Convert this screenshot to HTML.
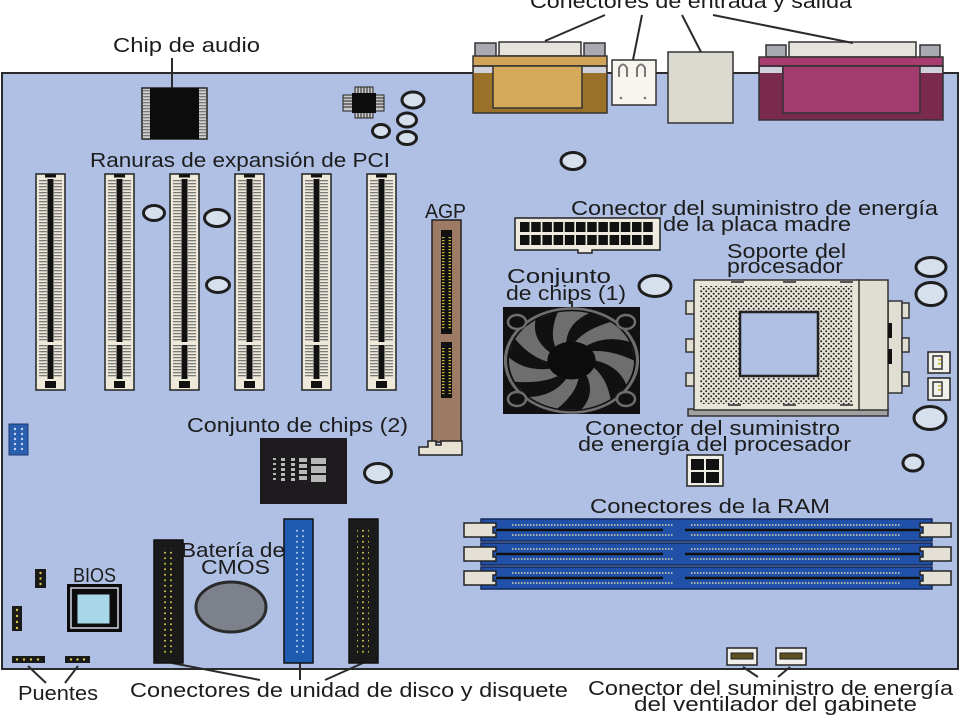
<!DOCTYPE html>
<html><head><meta charset="utf-8"><style>
html,body{margin:0;padding:0;background:#fff;width:960px;height:720px;overflow:hidden}
svg{display:block}
text{font-family:"Liberation Sans",sans-serif;font-size:20px;fill:#1c1c1c}
</style></head><body>
<svg width="960" height="720" viewBox="0 0 960 720" xmlns="http://www.w3.org/2000/svg" xmlns:xlink="http://www.w3.org/1999/xlink">
<defs>
<pattern id="stripe" width="4" height="3" patternUnits="userSpaceOnUse"><rect width="4" height="1.3" fill="#7a7a7a"/></pattern>
<pattern id="ystripe" width="4" height="3" patternUnits="userSpaceOnUse"><rect width="4" height="1.2" fill="#c8b830"/></pattern>
<pattern id="sockdots" width="5" height="5" patternUnits="userSpaceOnUse"><circle cx="1.2" cy="1.2" r="1" fill="#222"/><circle cx="3.7" cy="3.7" r="1" fill="#222"/></pattern>
<pattern id="ydots" width="6" height="5.5" patternUnits="userSpaceOnUse"><circle cx="3" cy="2.75" r="1" fill="#d8c840"/></pattern>
<pattern id="bdots" width="6" height="5.5" patternUnits="userSpaceOnUse"><circle cx="3" cy="2.75" r="1" fill="#b8d0f0"/></pattern>
<g id="pci">
 <rect x="0" y="0" width="29" height="216" fill="#efe9da" stroke="#222" stroke-width="1.5"/>
 <rect x="3" y="5" width="8" height="199" fill="url(#stripe)"/>
 <rect x="18" y="5" width="8" height="199" fill="url(#stripe)"/>
 <rect x="11.5" y="5" width="6" height="200" fill="#111"/>
 <rect x="2" y="168" width="25" height="3" fill="#efe9da"/>
 <rect x="9" y="0.5" width="11" height="3" fill="#111"/>
 <rect x="9" y="207" width="11" height="7" fill="#111"/>
</g>
<g id="ram">
 <rect x="17" y="0" width="451" height="22" fill="#2150a8" stroke="#14285a" stroke-width="1.5"/>
 <line x1="32" y1="11" x2="199" y2="11" stroke="#111" stroke-width="2.5"/>
 <line x1="221" y1="11" x2="456" y2="11" stroke="#111" stroke-width="2.5"/>
 <line x1="48" y1="6" x2="209" y2="6" stroke="#d8d8b0" stroke-width="1.5" stroke-dasharray="1.5 1.5"/>
 <line x1="48" y1="16" x2="209" y2="16" stroke="#d8d8b0" stroke-width="1.5" stroke-dasharray="1.5 1.5"/>
 <line x1="227" y1="6" x2="436" y2="6" stroke="#d8d8b0" stroke-width="1.5" stroke-dasharray="1.5 1.5"/>
 <line x1="227" y1="16" x2="436" y2="16" stroke="#d8d8b0" stroke-width="1.5" stroke-dasharray="1.5 1.5"/>
 <path d="M0,4 H32 V8 H29 V14 H32 V18 H0 Z" fill="#e4e0d6" stroke="#222" stroke-width="1.5"/>
 <path d="M487,4 H456 V8 H459 V14 H456 V18 H487 Z" fill="#e4e0d6" stroke="#222" stroke-width="1.5"/>
</g>
<path id="blade" d="M19,0 Q38,6 43.3,25 L30.8,39.4 Q28,18 17.6,7.1 Z" fill="#111"/>
</defs>

<!-- board -->
<rect x="2" y="73" width="956" height="596" fill="#afc0e4" stroke="#2a2a2a" stroke-width="2"/>

<!-- I/O connectors -->
<rect x="475" y="43" width="21" height="14" fill="#a9a9b2" stroke="#333" stroke-width="1.5"/>
<rect x="584" y="43" width="21" height="14" fill="#a9a9b2" stroke="#333" stroke-width="1.5"/>
<rect x="499" y="42" width="82" height="14" fill="#e6e3dd" stroke="#333" stroke-width="1.5"/>
<rect x="473" y="56" width="134" height="10" fill="#cfa458" stroke="#333" stroke-width="1.5"/>
<rect x="473" y="66" width="134" height="47" fill="#9b7129" stroke="#333" stroke-width="1.5"/>
<rect x="474" y="67" width="19" height="6" fill="#cfd2dc"/>
<rect x="582" y="67" width="24" height="6" fill="#cfd2dc"/>
<rect x="493" y="66" width="89" height="42" fill="#d4a95a" stroke="#333" stroke-width="1.5"/>

<rect x="612" y="60" width="44" height="45" fill="#f7f5ee" stroke="#333" stroke-width="1.5"/>
<path d="M619,77 V68 Q623,61 627,68 V77" fill="none" stroke="#777" stroke-width="2"/>
<path d="M637,77 V68 Q641,61 645,68 V77" fill="none" stroke="#777" stroke-width="2"/>
<circle cx="621" cy="98" r="1.3" fill="#777"/><circle cx="645" cy="98" r="1.3" fill="#777"/>

<rect x="668" y="52" width="65" height="71" fill="#dcd9d0" stroke="#333" stroke-width="1.5"/>

<rect x="766" y="45" width="20" height="12" fill="#a9a9b2" stroke="#333" stroke-width="1.5"/>
<rect x="920" y="45" width="20" height="12" fill="#a9a9b2" stroke="#333" stroke-width="1.5"/>
<rect x="789" y="42" width="127" height="15" fill="#e6e3dd" stroke="#333" stroke-width="1.5"/>
<rect x="759" y="57" width="184" height="9" fill="#a83c70" stroke="#333" stroke-width="1.5"/>
<rect x="759" y="66" width="184" height="54" fill="#7a2a4c" stroke="#333" stroke-width="1.5"/>
<rect x="760" y="67" width="22" height="6" fill="#cfd2dc"/>
<rect x="920" y="67" width="22" height="6" fill="#cfd2dc"/>
<rect x="783" y="66" width="137" height="47" fill="#a23c6e" stroke="#333" stroke-width="1.5"/>

<!-- I/O leader lines -->
<g stroke="#2a2a2a" stroke-width="2" fill="none">
<line x1="605" y1="15" x2="545" y2="41"/>
<line x1="642" y1="15" x2="633" y2="60"/>
<line x1="682" y1="15" x2="701" y2="52"/>
<line x1="713" y1="15" x2="853" y2="43"/>
<line x1="172" y1="58" x2="172" y2="88"/>
<line x1="572" y1="301" x2="572" y2="307"/>
<line x1="28" y1="666" x2="46" y2="683"/>
<line x1="78" y1="666" x2="65" y2="683"/>
<line x1="172" y1="663" x2="260" y2="680"/>
<line x1="300" y1="663" x2="300" y2="680"/>
<line x1="363" y1="663" x2="325" y2="680"/>
<line x1="743" y1="667" x2="758" y2="677"/>
<line x1="790" y1="667" x2="778" y2="677"/>
</g>

<!-- audio chip -->
<rect x="142" y="88" width="65" height="51" fill="#d0d0d0" stroke="#222" stroke-width="1.5"/>
<rect x="143" y="89" width="7" height="49" fill="url(#stripe)"/>
<rect x="199" y="89" width="7" height="49" fill="url(#stripe)"/>
<rect x="150" y="88" width="49" height="51" fill="#0c0c0c"/>

<!-- small chip -->
<rect x="343" y="95" width="41" height="16" fill="#c8c8c8" stroke="#222" stroke-width="1"/>
<rect x="355" y="87" width="18" height="31" fill="#c8c8c8" stroke="#222" stroke-width="1"/>
<g stroke="#222" stroke-width="1">
<line x1="358" y1="87" x2="358" y2="118"/><line x1="361" y1="87" x2="361" y2="118"/><line x1="364" y1="87" x2="364" y2="118"/><line x1="367" y1="87" x2="367" y2="118"/><line x1="370" y1="87" x2="370" y2="118"/>
<line x1="343" y1="98" x2="384" y2="98"/><line x1="343" y1="101" x2="384" y2="101"/><line x1="343" y1="104" x2="384" y2="104"/><line x1="343" y1="107" x2="384" y2="107"/>
</g>
<rect x="352" y="93" width="24" height="20" fill="#0c0c0c"/>

<!-- holes -->
<g fill="#d6dfec" stroke="#1e1e1e" stroke-width="3">
<ellipse cx="413" cy="100" rx="11" ry="8"/>
<ellipse cx="407" cy="120" rx="9.5" ry="7"/>
<ellipse cx="381" cy="131" rx="8.5" ry="6.5"/>
<ellipse cx="407" cy="138" rx="9.5" ry="6.5"/>
<ellipse cx="573" cy="161" rx="12" ry="8.5"/>
<ellipse cx="154" cy="213" rx="10.5" ry="7.5"/>
<ellipse cx="217" cy="218" rx="12.5" ry="8.5"/>
<ellipse cx="218" cy="285" rx="11.5" ry="7.5"/>
<ellipse cx="378" cy="473" rx="13.5" ry="9.5"/>
<ellipse cx="655" cy="286" rx="16" ry="10.5"/>
<ellipse cx="931" cy="267" rx="15" ry="9.5"/>
<ellipse cx="931" cy="294" rx="15" ry="11.5"/>
<ellipse cx="930" cy="418" rx="16" ry="11.5"/>
<ellipse cx="913" cy="463" rx="10" ry="8"/>
</g>

<!-- PCI slots -->
<use xlink:href="#pci" href="#pci" x="36" y="174"/>
<use xlink:href="#pci" href="#pci" x="105" y="174"/>
<use xlink:href="#pci" href="#pci" x="170" y="174"/>
<use xlink:href="#pci" href="#pci" x="235" y="174"/>
<use xlink:href="#pci" href="#pci" x="302" y="174"/>
<use xlink:href="#pci" href="#pci" x="367" y="174"/>

<!-- AGP -->
<rect x="432" y="220" width="29" height="222" fill="#9c7a64" stroke="#222" stroke-width="1.5"/>
<rect x="441" y="230" width="11" height="104" fill="#111"/>
<rect x="441" y="342" width="11" height="56" fill="#111"/>
<rect x="442" y="236" width="2.5" height="94" fill="url(#ystripe)"/>
<rect x="448.5" y="236" width="2.5" height="94" fill="url(#ystripe)"/>
<rect x="442" y="347" width="2.5" height="47" fill="url(#ystripe)"/>
<rect x="448.5" y="347" width="2.5" height="47" fill="url(#ystripe)"/>
<path d="M419,447 H428 V441 H436 V445 H441 V441 H462 V455 H419 Z" fill="#e8e2d4" stroke="#222" stroke-width="1.5"/>

<!-- ATX power -->
<path d="M515,218 H660 V250 H592 V253 H578 V250 H515 Z" fill="#eeeae0" stroke="#222" stroke-width="1.5"/>
<g fill="#111">
<rect x="520" y="222" width="9.5" height="10"/><rect x="531.2" y="222" width="9.5" height="10"/><rect x="542.4" y="222" width="9.5" height="10"/><rect x="553.6" y="222" width="9.5" height="10"/><rect x="564.8" y="222" width="9.5" height="10"/><rect x="576" y="222" width="9.5" height="10"/><rect x="587.2" y="222" width="9.5" height="10"/><rect x="598.4" y="222" width="9.5" height="10"/><rect x="609.6" y="222" width="9.5" height="10"/><rect x="620.8" y="222" width="9.5" height="10"/><rect x="632" y="222" width="9.5" height="10"/><rect x="643.2" y="222" width="9.5" height="10"/>
<rect x="520" y="235" width="9.5" height="10"/><rect x="531.2" y="235" width="9.5" height="10"/><rect x="542.4" y="235" width="9.5" height="10"/><rect x="553.6" y="235" width="9.5" height="10"/><rect x="564.8" y="235" width="9.5" height="10"/><rect x="576" y="235" width="9.5" height="10"/><rect x="587.2" y="235" width="9.5" height="10"/><rect x="598.4" y="235" width="9.5" height="10"/><rect x="609.6" y="235" width="9.5" height="10"/><rect x="620.8" y="235" width="9.5" height="10"/><rect x="632" y="235" width="9.5" height="10"/><rect x="643.2" y="235" width="9.5" height="10"/>
</g>

<!-- Fan (chipset 1) -->
<rect x="503" y="307" width="137" height="107" fill="#111"/>
<g transform="translate(571.5,360.5) scale(1.27,1)">
 <circle r="50" fill="#6e6e6e"/>
 <use xlink:href="#blade" href="#blade" transform="rotate(0)"/>
 <use xlink:href="#blade" href="#blade" transform="rotate(51.4)"/>
 <use xlink:href="#blade" href="#blade" transform="rotate(102.9)"/>
 <use xlink:href="#blade" href="#blade" transform="rotate(154.3)"/>
 <use xlink:href="#blade" href="#blade" transform="rotate(205.7)"/>
 <use xlink:href="#blade" href="#blade" transform="rotate(257.1)"/>
 <use xlink:href="#blade" href="#blade" transform="rotate(308.6)"/>
 <circle r="19" fill="#0c0c0c"/>
 <circle r="50" fill="none" stroke="#111" stroke-width="1.5"/>
 <circle r="52" fill="none" stroke="#6e6e6e" stroke-width="2.5"/>
</g>
<g fill="#111" stroke="#6e6e6e" stroke-width="2.5">
<ellipse cx="517" cy="322" rx="9" ry="7"/>
<ellipse cx="626" cy="322" rx="9" ry="7"/>
<ellipse cx="517" cy="399" rx="9" ry="7"/>
<ellipse cx="626" cy="399" rx="9" ry="7"/>
</g>

<!-- CPU socket -->
<rect x="688" y="409" width="200" height="7" fill="#a0a0a0" stroke="#333" stroke-width="1.5"/>
<g fill="#e0ddd2" stroke="#333" stroke-width="1.5">
<rect x="686" y="301" width="9" height="13"/>
<rect x="686" y="339" width="9" height="13"/>
<rect x="686" y="373" width="9" height="13"/>
<rect x="888" y="301" width="14" height="92"/>
<rect x="902" y="303" width="7" height="15"/>
<rect x="902" y="338" width="7" height="14"/>
<rect x="902" y="372" width="7" height="14"/>
<rect x="858" y="280" width="30" height="130"/>
</g>
<rect x="888" y="323" width="4" height="15" fill="#111"/>
<rect x="888" y="349" width="4" height="15" fill="#111"/>
<rect x="694" y="280" width="165" height="130" fill="#e8e4d8" stroke="#333" stroke-width="1.5"/>
<rect x="700" y="286" width="153" height="118" fill="url(#sockdots)"/>
<rect x="740" y="312" width="78" height="64" fill="#afc0e4" stroke="#222" stroke-width="2.5"/>
<g stroke="#555" stroke-width="2">
<line x1="731" y1="282" x2="744" y2="282"/><line x1="783" y1="282" x2="796" y2="282"/><line x1="840" y1="282" x2="853" y2="282"/>
<line x1="728" y1="405" x2="741" y2="405"/><line x1="783" y1="405" x2="796" y2="405"/><line x1="840" y1="405" x2="853" y2="405"/>
</g>

<!-- small right connectors -->
<g fill="#f2f0ea" stroke="#222" stroke-width="1.5">
<rect x="928" y="352" width="22" height="21"/>
<rect x="928" y="378" width="22" height="22"/>
</g>
<g fill="none" stroke="#333" stroke-width="1.5">
<path d="M933,356 H942 V369 H933 Z"/><path d="M933,382 H942 V396 H933 Z"/>
</g>
<g fill="#c8b830"><rect x="938" y="359" width="3" height="1.5"/><rect x="938" y="363" width="3" height="1.5"/><rect x="938" y="385" width="3" height="1.5"/><rect x="938" y="389" width="3" height="1.5"/></g>

<!-- CPU power 4-pin -->
<rect x="687" y="455" width="36" height="31" fill="#f0ede4" stroke="#222" stroke-width="1.5"/>
<g fill="#111"><rect x="691" y="459" width="13" height="11"/><rect x="706" y="459" width="13" height="11"/><rect x="691" y="472" width="13" height="11"/><rect x="706" y="472" width="13" height="11"/></g>

<!-- chipset 2 -->
<rect x="260" y="438" width="87" height="66" fill="#1e1b1e"/>
<g fill="#b8b8b8">
<rect x="273" y="458" width="3" height="2"/><rect x="273" y="463" width="3" height="2"/><rect x="273" y="468" width="3" height="2"/><rect x="273" y="473" width="3" height="2"/><rect x="273" y="478" width="3" height="2"/>
<rect x="281" y="458" width="4" height="3"/><rect x="281" y="463" width="4" height="3"/><rect x="281" y="468" width="4" height="3"/><rect x="281" y="473" width="4" height="3"/><rect x="281" y="478" width="4" height="3"/>
<rect x="291" y="458" width="4" height="3"/><rect x="291" y="463" width="4" height="3"/><rect x="291" y="468" width="4" height="3"/><rect x="291" y="473" width="4" height="3"/><rect x="291" y="478" width="4" height="3"/>
<rect x="299" y="458" width="8" height="4"/><rect x="299" y="464" width="8" height="4"/><rect x="299" y="470" width="8" height="4"/><rect x="299" y="476" width="8" height="4"/>
<rect x="311" y="458" width="15" height="6"/><rect x="311" y="466" width="15" height="7"/><rect x="311" y="475" width="15" height="7"/>
</g>

<!-- RAM slots -->
<use xlink:href="#ram" href="#ram" x="464" y="519"/>
<use xlink:href="#ram" href="#ram" x="464" y="543"/>
<use xlink:href="#ram" href="#ram" x="464" y="567"/>

<!-- IDE / floppy connectors -->
<rect x="154" y="540" width="29" height="123" fill="#1a1a1a" stroke="#111" stroke-width="1.5"/>
<rect x="162" y="548" width="12" height="108" fill="url(#ydots)"/>
<rect x="284" y="519" width="29" height="144" fill="#1f5cb0" stroke="#111" stroke-width="1.5"/>
<rect x="292" y="527" width="12" height="129" fill="url(#bdots)"/>
<rect x="349" y="519" width="29" height="144" fill="#1a1a1a" stroke="#111" stroke-width="1.5"/>
<rect x="357" y="527" width="12" height="129" fill="url(#ydots)"/>

<!-- battery -->
<ellipse cx="231" cy="607" rx="35" ry="25" fill="#7c818c" stroke="#2a2a2a" stroke-width="3"/>

<!-- BIOS -->
<rect x="67" y="584" width="55" height="48" fill="#0c0c0c"/>
<rect x="71" y="588" width="47" height="40" fill="none" stroke="#d0d6e4" stroke-width="1.5"/>
<rect x="77" y="594" width="33" height="30" fill="#a8d8e8" stroke="#111" stroke-width="1"/>

<!-- headers & jumpers -->
<rect x="9" y="424" width="19" height="31" fill="#2a5fb0" stroke="#1a3a70" stroke-width="1"/>
<g fill="#c8d8f0">
<circle cx="15" cy="429" r="1.2"/><circle cx="22" cy="429" r="1.2"/><circle cx="15" cy="434" r="1.2"/><circle cx="22" cy="434" r="1.2"/><circle cx="15" cy="439" r="1.2"/><circle cx="22" cy="439" r="1.2"/><circle cx="15" cy="444" r="1.2"/><circle cx="22" cy="444" r="1.2"/><circle cx="15" cy="449" r="1.2"/><circle cx="22" cy="449" r="1.2"/>
</g>
<g fill="#1a1a1a">
<rect x="35" y="569" width="11" height="19"/>
<rect x="12" y="606" width="10" height="25"/>
<rect x="12" y="656" width="33" height="7"/>
<rect x="65" y="656" width="25" height="7"/>
</g>
<g fill="#d8c840">
<circle cx="40.5" cy="573" r="1.2"/><circle cx="40.5" cy="578.5" r="1.2"/><circle cx="40.5" cy="584" r="1.2"/>
<circle cx="17" cy="610" r="1.2"/><circle cx="17" cy="616" r="1.2"/><circle cx="17" cy="622" r="1.2"/><circle cx="17" cy="628" r="1.2"/>
<circle cx="17" cy="659.5" r="1.2"/><circle cx="24" cy="659.5" r="1.2"/><circle cx="31" cy="659.5" r="1.2"/><circle cx="38" cy="659.5" r="1.2"/>
<circle cx="71" cy="659.5" r="1.2"/><circle cx="77.5" cy="659.5" r="1.2"/><circle cx="84" cy="659.5" r="1.2"/>
</g>

<!-- case fan connectors -->
<g fill="#f2f0ea" stroke="#222" stroke-width="1.5">
<rect x="727" y="648" width="30" height="17"/>
<rect x="776" y="648" width="30" height="17"/>
</g>
<g fill="#5a5020" stroke="#222" stroke-width="1">
<rect x="731" y="653" width="22" height="6"/>
<rect x="780" y="653" width="22" height="6"/>
</g>

<!-- labels -->
<text x="530" y="8" textLength="322" lengthAdjust="spacingAndGlyphs">Conectores de entrada y salida</text>
<text x="113" y="52" textLength="147" lengthAdjust="spacingAndGlyphs">Chip de audio</text>
<text x="90" y="167" textLength="300" lengthAdjust="spacingAndGlyphs">Ranuras de expansión de PCI</text>
<text x="425" y="218" font-size="17" textLength="41" lengthAdjust="spacingAndGlyphs">AGP</text>
<text x="571" y="215" textLength="367" lengthAdjust="spacingAndGlyphs">Conector del suministro de energía</text>
<text x="663" y="231" textLength="188" lengthAdjust="spacingAndGlyphs">de la placa madre</text>
<text x="727" y="258" textLength="119" lengthAdjust="spacingAndGlyphs">Soporte del</text>
<text x="727" y="273" textLength="116" lengthAdjust="spacingAndGlyphs">procesador</text>
<text x="507" y="283" textLength="104" lengthAdjust="spacingAndGlyphs">Conjunto</text>
<text x="506" y="300" textLength="120" lengthAdjust="spacingAndGlyphs">de chips (1)</text>
<text x="187" y="432" textLength="221" lengthAdjust="spacingAndGlyphs">Conjunto de chips (2)</text>
<text x="585" y="435" textLength="255" lengthAdjust="spacingAndGlyphs">Conector del suministro</text>
<text x="578" y="451" textLength="273" lengthAdjust="spacingAndGlyphs">de energía del procesador</text>
<text x="590" y="513" textLength="240" lengthAdjust="spacingAndGlyphs">Conectores de la RAM</text>
<text x="181" y="557" textLength="104" lengthAdjust="spacingAndGlyphs">Batería de</text>
<text x="201" y="574" textLength="69" lengthAdjust="spacingAndGlyphs">CMOS</text>
<text x="73" y="582" font-size="17" textLength="43" lengthAdjust="spacingAndGlyphs">BIOS</text>
<text x="18" y="700" textLength="80" lengthAdjust="spacingAndGlyphs">Puentes</text>
<text x="130" y="697" textLength="438" lengthAdjust="spacingAndGlyphs">Conectores de unidad de disco y disquete</text>
<text x="588" y="695" textLength="365" lengthAdjust="spacingAndGlyphs">Conector del suministro de energía</text>
<text x="634" y="711" textLength="283" lengthAdjust="spacingAndGlyphs">del ventilador del gabinete</text>
</svg>
</body></html>
